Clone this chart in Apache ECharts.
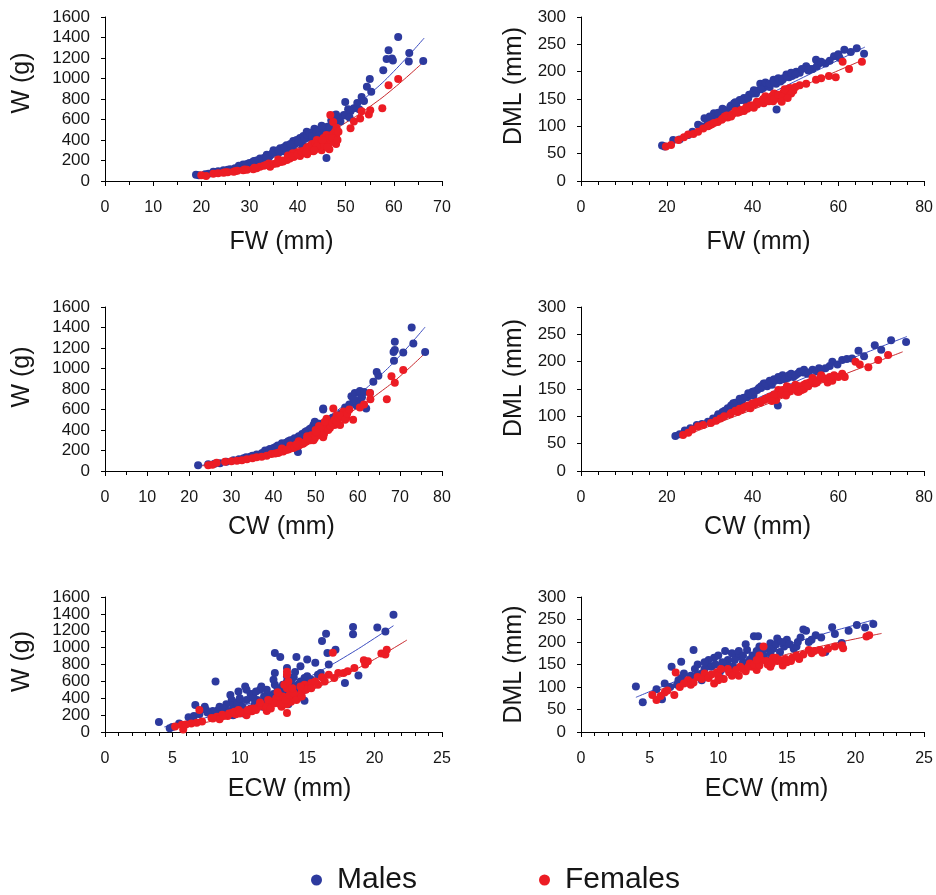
<!DOCTYPE html>
<html><head><meta charset="utf-8">
<script src="https://cdn.jsdelivr.net/npm/echarts@6/dist/echarts.min.js"></script>
<style>html,body{margin:0;padding:0;background:#fff}#c{width:936px;height:895px}</style>
</head><body><div id="c"></div>
<script>
// ---- Panel 1: FW vs W ----
const fwW_males = [[18.9,60],[19.5,55],[20.8,65],[21.5,70],[22.5,90],[23.5,95],[24.6,105],[26,115],[27,125],[27.8,150],[28.7,160],[29.5,165],[30.8,190],[31.5,200],[32.2,220],[33,225],[33.6,255],[34.3,250],[35,300],[35.5,280],[36.4,320],[36.8,300],[37.7,350],[38.2,330],[39.1,390],[39.5,360],[40.5,420],[40.8,380],[41.2,440],[41.9,480],[42.3,430],[42.8,460],[43.5,510],[43.8,470],[44.3,500],[44.8,460],[45.2,480],[46.2,530],[46.0,225],[47.5,640],[47,590],[48.2,600],[48.9,580],[49.6,645],[49.9,770],[50.5,700],[51.7,710],[52.4,760],[52.8,700],[53.3,820],[53.8,780],[54.4,920],[55.0,995],[55.3,870],[57.8,1080],[58.5,1190],[58.9,1275],[59.6,1195],[59.8,1175],[60.9,1405],[63.2,1250],[63.1,1165],[66.1,1170],[41,350],[43,400],[45,420],[38,300],[36,270],[34,230],[32,200],[39,340],[37,290],
  [33.5,240],[34.8,270],[36,300],[37.2,330],[38.5,360],[39.8,400],[40.2,380],[41.5,410],[42,450],[42.5,470],[43,440],[44,480],[44.5,450],[45.5,500],[46.5,480],[47.5,560],[48.5,620],[50,640],[51,680],[30,175],[31,195],[29,150],[25.5,110],[23,85],[46.8,520],[45,540],[48,650],[50.8,620]];
const fwW_females = [[20,55],[21,50],[22.5,70],[23.5,75],[24.6,80],[25.5,85],[26.7,90],[27.5,100],[28.7,105],[29.5,110],[30.8,115],[31.5,125],[32.2,140],[33,150],[34.3,140],[35,165],[35.7,170],[36.5,185],[37,190],[37.8,205],[38.4,220],[39.2,235],[39.8,255],[40.5,245],[41.2,270],[41.9,320],[42.3,285],[42.8,300],[43.3,350],[43.3,290],[43.8,320],[44.2,380],[44.7,350],[45,300],[45.4,420],[45.8,340],[46.4,385],[46.6,310],[47.1,450],[47.4,575],[46.8,645],[47.5,400],[48.1,520],[48,360],[47.8,480],[51,515],[51.7,580],[53,610],[53.3,680],[54.8,650],[55.1,690],[57.6,710],[58.9,935],[60.9,995],[44,400],[42,260],[40,280],[46,450],[43,330],[39,270],[38,250],[36,210],[34,170],
  [36,190],[37,200],[38,230],[39,245],[40,260],[40.8,290],[41.5,300],[42,330],[42.5,340],[43,360],[43.7,370],[44.5,320],[45,380],[45.5,360],[46,400],[46.5,420],[47,380],[47.5,460],[48,440],[48.5,480],[44,340],[45.2,400],[46.2,330],[43.5,300],[41.8,280],[47.2,420],[48.3,400],[33.5,155],[31,130],[29,112],[27,95],[25,85]];
const fwW_malesFit = [[19,50],[25,104],[30,169],[35,255],[40,364],[45,497],[50,659],[55,849],[60,1070],[66.3,1395]];
const fwW_femalesFit = [[20,55],[25,97],[30,155],[35,229],[40,322],[45,435],[50,569],[55,725],[60,906],[65.8,1146]];

// ---- Panel 2: FW vs DML ----
const fwDML_males = [[18.9,65],[19.5,63],[21.5,75],[23,76],[25,84],[26,90],[27.3,103],[28,100],[28.8,115],[29.5,108],[30.2,112],[31,124],[31.5,118],[32.5,122],[33.4,130],[34,128],[34.8,136],[35.7,142],[36.2,138],[37,148],[38,152],[38.5,147],[39.2,158],[40.3,166],[40.8,160],[41.8,178],[42.5,170],[43.2,175],[44,172],[44.9,185],[45.5,178],[46.5,182],[47.2,188],[47.9,195],[48.5,190],[49.2,192],[50.2,200],[51,198],[52.5,210],[53.3,205],[54,205],[54.8,222],[55.5,215],[57,215],[59,228],[60.3,225],[61.4,240],[62.9,236],[64.3,243],[66,233],[45.6,131],
  [30,118],[32,125],[33,132],[35,138],[36,144],[37.5,148],[39,152],[40,160],[41,165],[42,168],[43,180],[44,178],[45,182],[46,188],[47,185],[48,192],[49,198],[50,195],[51.5,205],[53,202],[55,210],[56,218],[58,220],[60,232]];
const fwDML_females = [[19.8,63],[21,66],[22.7,75],[24,80],[25,85],[26.2,86],[27.3,90],[28.5,96],[29.6,100],[30.5,104],[31.9,108],[32.8,112],[33.5,118],[34.2,116],[35.3,122],[36.5,125],[37.3,130],[38,128],[38.8,132],[39.5,138],[40.3,134],[41.1,140],[42,146],[42.6,142],[43.4,148],[44.2,152],[44.8,146],[45.6,155],[46.3,150],[47.2,162],[47.8,158],[48.7,170],[49.5,165],[51,175],[52.5,178],[54.8,185],[56,188],[57.8,192],[59.4,190],[61,218],[62.5,205],[65.5,218],[43,155],[41,145],[45,160],
  [30,102],[31,106],[33,114],[34,120],[35,118],[36,128],[37,126],[38.5,135],[40,138],[41.5,144],[42.5,150],[43.8,146],[44.5,155],[45,150],[46,158],[47,155],[48,165],[49,160],[50,172],[47.5,168],[46.8,145],[48.2,152]];
const fwDML_malesFit = [[19,63],[40,144],[66.2,245]];
const fwDML_femalesFit = [[19,62],[40,134],[65.6,221]];

// ---- Panel 3: CW vs W ----
const cwW_males = [[22.1,55],[24.5,65],[26,70],[27.3,75],[28.8,90],[30.5,105],[31.8,115],[32.9,125],[34.5,140],[36,160],[37.3,175],[38.4,190],[39.2,215],[40,225],[40.8,230],[41.6,240],[42.5,250],[43.1,255],[44,275],[44.7,290],[45.5,300],[45.8,185],[46.3,320],[47.1,350],[47.9,390],[48.6,410],[49.5,450],[50.3,430],[51.8,610],[51.8,600],[52.6,480],[53.5,500],[55,510],[55.8,530],[56.6,545],[57.5,600],[58.5,730],[59.3,760],[59.7,640],[60,680],[60.8,720],[62,610],[62.9,760],[63.7,870],[64.5,965],[64.9,930],[68.6,1075],[68.5,1160],[68.8,1180],[68.8,1260],[70.8,1155],[72.8,1400],[73.2,1245],[76,1160],[42,270],[44,300],[46,340],[48,370],[50,470],[54,520],[57,580],
  [38,200],[39,210],[40.5,235],[41,250],[42,260],[43,275],[43.5,290],[44.5,300],[45,320],[46,330],[46.8,360],[47.5,380],[48.5,400],[49,420],[50,440],[51,460],[52,470],[53,490],[54,500],[55.5,540],[56,560],[57,620],[58,650],[59,700],[61,720],[60.5,780],[61.5,770],[47,340],[49.8,480],[35,150],[33.5,135]];
const cwW_females = [[24.5,55],[25.5,60],[26.5,80],[28.5,90],[30,95],[31.3,100],[32.5,105],[33.7,115],[35,125],[36,135],[37.2,140],[38.4,150],[39.5,165],[40.4,170],[41.3,180],[42.3,190],[43.5,210],[44.7,225],[45.5,240],[46.3,255],[47.1,270],[47.9,290],[48.8,300],[49.8,320],[50.5,350],[51,380],[51.8,330],[52.6,510],[53.4,420],[54.2,610],[54.5,450],[55,545],[55.8,450],[56.6,580],[57.3,520],[58.9,500],[60.5,620],[61.5,650],[62.9,760],[63,700],[66.9,700],[68.8,860],[68,925],[70.8,985],[50,400],[52,400],[48,340],[46,290],[44,250],[42,220],[53,450],[50.8,440],[49,350],
  [41,175],[42,195],[43,205],[44,220],[45,235],[46,250],[47,265],[47.5,280],[48.5,310],[49,330],[49.5,300],[50,340],[50.5,370],[51.5,390],[52,360],[52.5,420],[53,400],[53.5,440],[54,470],[54.5,500],[55,480],[55.5,520],[56,540],[57,500],[57.5,560],[58,600],[51,420],[52.2,480],[50.2,380],[45.5,260],[48,320]];
const cwW_malesFit = [[22,50],[30,115],[40,250],[50,455],[60,743],[65,920],[70,1124],[76,1405]];
const cwW_femalesFit = [[23,50],[30,100],[40,213],[50,382],[60,617],[65,760],[70,923],[76,1151]];

// ---- Panel 4: CW vs DML ----
const cwDML_males = [[22,64],[23,67],[24.2,74],[25.5,78],[27,84],[28.2,86],[29.6,90],[30.8,96],[31.9,100],[33,108],[34.2,115],[35.2,118],[36.5,122],[37.5,128],[38.8,135],[39.5,140],[40.2,138],[41.1,148],[42.6,160],[43.4,155],[44.5,158],[45.2,165],[46.4,166],[47,175],[48.2,170],[49.5,172],[50.5,178],[51.8,180],[52.8,178],[54,185],[55,182],[57,188],[58.6,200],[59.8,195],[60.9,203],[63.2,206],[64.7,220],[66,210],[68.5,230],[70,222],[72.3,239],[75.8,236],[45.9,120],[42,152],[40,145],[44,162],
  [32,104],[33.5,110],[35,120],[36,125],[37,132],[38,134],[39,142],[40.5,146],[41.5,152],[42,155],[43,160],[44,165],[45,168],[46,172],[47.5,168],[48.5,175],[49,178],[50,175],[51,182],[52,185],[53,180],[55.5,188],[56,185],[58,192],[62,205],[35.5,124],[37.8,133]];
const cwDML_females = [[23.8,66],[25,70],[26,76],[27.3,82],[28.5,84],[30.3,88],[31.5,92],[32.5,96],[33.4,100],[34.8,104],[36.5,108],[37.5,112],[38.5,118],[39.5,115],[40.5,122],[41.8,125],[42.8,130],[44.1,133],[45,138],[45.5,130],[46.4,140],[47.5,143],[48.7,146],[49.8,150],[50.5,145],[51,152],[52,158],[53.3,162],[54.5,160],[55.6,168],[56.5,170],[57.5,162],[58.6,165],[60.9,178],[61.5,172],[64,200],[65,195],[67,190],[69.3,203],[71.6,212],[46,148],[48,155],[50,158],[52,150],[54,170],[56,175],
  [35,106],[36,110],[37,114],[38,116],[39,120],[40,124],[41,126],[42,128],[43,132],[44,136],[45,140],[46.8,142],[47,148],[48,150],[49,152],[50,150],[51,155],[51.5,148],[52.5,160],[53,155],[54,165],[55,162],[56,172],[57,168],[58,172],[59,175],[60,172],[44.5,128],[47.8,138],[50.8,145]];
const cwDML_malesFit = [[22,65],[49,160],[76,246]];
const cwDML_femalesFit = [[24,64],[49.5,141],[75,218]];

// ---- Panel 5: ECW vs W ----
const ecwW_males = [[4.0,120],[4.8,45],[6.2,175],[6.6,190],[6.7,320],[7.4,300],[7.9,200],[8.2,600],[8.4,260],[8.8,230],[9.1,210],[9.4,380],[9.6,300],[9.9,480],[10.1,260],[10.4,540],[10.6,240],[10.9,420],[11.1,320],[11.3,380],[11.5,500],[11.8,350],[12,440],[12.1,280],[12.6,560],[12.6,700],[12.6,935],[12.9,420],[13,890],[13.3,500],[13.5,600],[13.5,760],[13.6,330],[14.1,710],[14.2,890],[14.5,780],[14.8,640],[14.8,370],[15,860],[15.3,620],[15.6,820],[15.8,680],[16.1,1080],[16.4,1165],[16.5,935],[16.6,800],[17.1,975],[17.8,580],[18.8,670],[18.4,1245],[18.4,1160],[20.2,1240],[20.8,1190],[21.4,1390],[10,350],[11,450],[12.3,350],[9,330],[8,250],[10.8,280],[13.8,500],[14.3,560],[7.6,230],
  [8.5,300],[8.8,280],[9.2,250],[9.5,320],[9.8,350],[10,400],[10.2,300],[10.5,380],[10.8,450],[11,400],[11.2,480],[11.5,350],[11.8,420],[12,500],[12.2,400],[12.5,450],[12.8,520],[13,460],[13.2,560],[13.5,430],[13.8,600],[14,650],[14.5,600],[14.8,500],[15.2,580],[15,660],[16,700],[7.5,260],[7,210],[6.5,150],[5.5,100],[5,60],[9.3,440],[10.5,500],[11.6,540],[12.5,620],[13.5,660],[14.3,500],[13.3,380],[12.8,360],[11.7,300],[10.3,220],[9.5,200],[8.6,180]];
const ecwW_females = [[5.2,65],[5.7,85],[5.8,30],[6.4,100],[7.0,260],[7.2,125],[7.9,165],[8.3,180],[8.7,205],[9.1,190],[9.4,225],[9.7,210],[9.9,260],[10.3,230],[10.9,245],[11.4,300],[11.9,290],[12.2,330],[12.4,360],[12.9,440],[13.1,300],[13.5,225],[13.5,330],[13.5,520],[13.5,680],[13.5,715],[13.8,360],[14.3,400],[14.6,480],[14.8,560],[15.3,580],[16.1,650],[16.6,680],[16.9,940],[17.3,700],[19.2,850],[19.3,800],[20.5,930],[20.8,920],[20.9,975],[12,250],[11,280],[10.5,200],[13,380],[14,420],[15,520],[8.5,150],[12.7,400],[14.5,440],[15.8,560],
  [8,160],[8.8,190],[9.2,220],[9.6,240],[10,220],[10.8,270],[11.2,260],[11.6,320],[12,300],[12.3,280],[12.6,340],[13,330],[13.2,420],[13.4,380],[13.7,440],[14,460],[14.2,380],[14.6,420],[14.9,500],[15.3,520],[15.6,600],[16.3,600],[17,640],[17.7,700],[18,720],[18.5,760],[19.5,840],[12.8,470],[13.3,560],[13.6,600],[11.5,350],[10.6,260],[13.9,520],[14.5,540],[12.1,380],[10,240],[6.8,110],[6,90]];
const ecwW_malesFit = [[4.4,60],[6,112],[8,193],[10,296],[12,419],[14,562],[16,726],[18,909],[20,1111],[21.4,1260]];
const ecwW_femalesFit = [[5,50],[6,73],[8,131],[10,208],[12,302],[14,415],[16,546],[18,695],[20,863],[22.4,1090]];

// ---- Panel 6: ECW vs DML ----
const ecwDML_males = [[4.0,101],[4.5,66],[5.9,73],[6.1,108],[6.6,145],[7.1,115],[7.3,156],[7.3,120],[7.8,110],[8.2,182],[8.3,140],[8.8,130],[8.8,115],[9.2,150],[9.7,165],[10.2,137],[10.2,120],[10.7,160],[11.1,145],[11.4,167],[11.8,155],[12.1,182],[12.1,145],[12.6,213],[12.9,213],[13.1,175],[13.5,160],[13.8,197],[14.3,208],[14.5,178],[15,205],[15.5,185],[15.7,190],[16.2,228],[16.4,225],[16.6,200],[17.1,215],[17.8,178],[18.3,233],[19,198],[20.1,238],[20.7,232],[21.3,240],[9.5,145],[10.5,150],[12.5,170],[13,190],[14,185],[11,175],
  [7.5,130],[8,125],[8.5,150],[9,140],[9.3,160],[9.8,150],[10,170],[10.3,155],[10.8,145],[11.2,160],[11.5,180],[11.8,170],[12.3,160],[12.8,180],[13.3,170],[13.5,185],[13.8,175],[14.2,195],[14.8,190],[15.2,195],[15.8,200],[16,210],[16.8,205],[17.5,210],[18.5,218],[19.5,225],[14.6,200],[12,195],[10.5,180],[9,155],[8.5,128],[7,105],[6.5,100],[5.5,95]];
const ecwDML_females = [[5.2,82],[5.5,71],[6.1,88],[6.8,82],[6.9,132],[7.8,115],[8.5,122],[9,130],[9.7,108],[9.9,133],[10.4,118],[10.7,140],[11.1,130],[11.6,145],[12,135],[12.3,152],[12.8,138],[13.1,160],[13.3,190],[13.6,150],[13.8,145],[14.3,158],[14.7,148],[15,155],[15.4,165],[15.9,162],[16.6,182],[17.4,182],[17.6,176],[19.0,193],[19.1,186],[20.8,212],[21,215],[8,105],[11.5,125],[12.5,145],[14,165],[13,170],
  [7.2,100],[7.5,108],[8.2,110],[8.8,118],[9.3,120],[9.5,128],[10,125],[10.2,140],[10.8,132],[11.3,138],[11.8,140],[12.2,145],[12.6,150],[13,148],[13.5,158],[13.9,152],[14.2,165],[14.5,160],[14.9,162],[15.3,158],[15.7,170],[16.2,172],[16.8,175],[17,180],[18,185],[18.5,190],[12.8,160],[11,125],[10,115],[6.3,92],[5.8,80]];
const ecwDML_malesFit = [[4,77],[6,102],[8,125],[10,146],[12,166],[14,185],[16,203],[18,221],[20,238],[21.3,249]];
const ecwDML_femalesFit = [[4.94,86],[8,116],[10,134],[12,150],[14,165],[16,180],[18,194],[20,207],[21.9,219]];

const legendNames = ['Males', 'Females'];

const BLUE = '#2d3a9e', RED = '#ec1c24', BLUE_LINE = '#3b4cc0', RED_LINE = '#c8282c';
const FONT = '"Liberation Sans", Arial, sans-serif';
const TXT = '#161616';

const panels = [
  {grid:{left:105, top:17, width:337, height:164}, xmax:70, xint:10, xminor:2, xname:'FW (mm)', xshift:8, xgap:49, ymax:1600, yint:200, yname:'W (g)', ygap:70, yshift:16, m:fwW_males, f:fwW_females, mf:fwW_malesFit, ff:fwW_femalesFit},
  {grid:{left:581, top:17, width:349, height:164}, xmax:80, xint:20, xminor:5, xname:'FW (mm)', xshift:6, xgap:49, ymax:300, yint:50, yname:'DML (mm)', ygap:54, yshift:13, m:fwDML_males, f:fwDML_females, mf:fwDML_malesFit, ff:fwDML_femalesFit},
  {grid:{left:105, top:307, width:337, height:164}, xmax:80, xint:10, xminor:2, xname:'CW (mm)', xshift:8, xgap:44, ymax:1600, yint:200, yname:'W (g)', ygap:70, yshift:12, m:cwW_males, f:cwW_females, mf:cwW_malesFit, ff:cwW_femalesFit},
  {grid:{left:581, top:307, width:349, height:164}, xmax:80, xint:20, xminor:5, xname:'CW (mm)', xshift:5, xgap:44, ymax:300, yint:50, yname:'DML (mm)', ygap:54, yshift:11, m:cwDML_males, f:cwDML_females, mf:cwDML_malesFit, ff:cwDML_femalesFit},
  {grid:{left:105, top:597, width:337, height:135}, xmax:25, xint:5, xminor:5, xname:'ECW (mm)', xshift:16, xgap:45, ymax:1600, yint:200, yname:'W (g)', ygap:70, yshift:3, m:ecwW_males, f:ecwW_females, mf:ecwW_malesFit, ff:ecwW_femalesFit},
  {grid:{left:581, top:597, width:349, height:135}, xmax:25, xint:5, xminor:5, xname:'ECW (mm)', xshift:14, xgap:45, ymax:300, yint:50, yname:'DML (mm)', ygap:54, yshift:0, m:ecwDML_males, f:ecwDML_females, mf:ecwDML_malesFit, ff:ecwDML_femalesFit}
];

const grids = [], xAxes = [], yAxes = [], series = [];
const axLine = {show:true, lineStyle:{color:'#000', width:1}};
const plain = v => String(v);
panels.forEach((p, i) => {
  grids.push(Object.assign({containLabel:false}, p.grid));
  xAxes.push({
    type:'value', gridIndex:i, min:0, max:p.xmax, interval:p.xint,
    axisLine:axLine, axisTick:{show:true, length:5, lineStyle:{color:'#000'}},
    minorTick:{show:true, splitNumber:p.xminor, length:4, lineStyle:{color:'#000'}},
    splitLine:{show:false},
    axisLabel:{fontSize:16, color:TXT, fontFamily:FONT, margin:19, formatter:plain},
    name:p.xname, nameLocation:'middle', nameGap:p.xgap,
    nameTextStyle:{fontSize:25, color:TXT, fontFamily:FONT, padding:[0,0,0,2*p.xshift]}
  });
  yAxes.push({
    type:'value', gridIndex:i, min:0, max:p.ymax, interval:p.yint,
    axisLine:axLine, axisTick:{show:true, length:4, lineStyle:{color:'#000'}},
    splitLine:{show:false},
    axisLabel:{fontSize:17, color:TXT, fontFamily:FONT, margin:15, formatter:plain},
    name:p.yname, nameLocation:'middle', nameGap:p.ygap,
    nameTextStyle:{fontSize:25, color:TXT, fontFamily:FONT, padding:[0,0,0,2*p.yshift]}
  });
  series.push({type:'line', name:'Males fit', xAxisIndex:i, yAxisIndex:i, data:p.mf, smooth:true, symbol:'none', lineStyle:{color:BLUE_LINE, width:1}, z:1});
  series.push({type:'line', name:'Females fit', xAxisIndex:i, yAxisIndex:i, data:p.ff, smooth:true, symbol:'none', lineStyle:{color:RED_LINE, width:1}, z:1});
  series.push({type:'scatter', name:legendNames[0], xAxisIndex:i, yAxisIndex:i, data:p.m, symbol:'circle', symbolSize:8, itemStyle:{color:BLUE, opacity:1}, z:2});
  series.push({type:'scatter', name:legendNames[1], xAxisIndex:i, yAxisIndex:i, data:p.f, symbol:'circle', symbolSize:8, itemStyle:{color:RED, opacity:1}, z:2});
});

const chart = echarts.init(document.getElementById('c'), null, {renderer:'canvas'});
chart.setOption({
  animation:false,
  backgroundColor:'#fff',
  grid:grids, xAxis:xAxes, yAxis:yAxes, series:series,
  legend:{
    data:legendNames, left:306, top:860, icon:'circle', itemWidth:11, itemHeight:11, itemGap:122,
    selectedMode:false,
    textStyle:{fontSize:30, color:TXT, fontFamily:FONT, padding:[0,0,0,10]}
  }
});
</script></body></html>
